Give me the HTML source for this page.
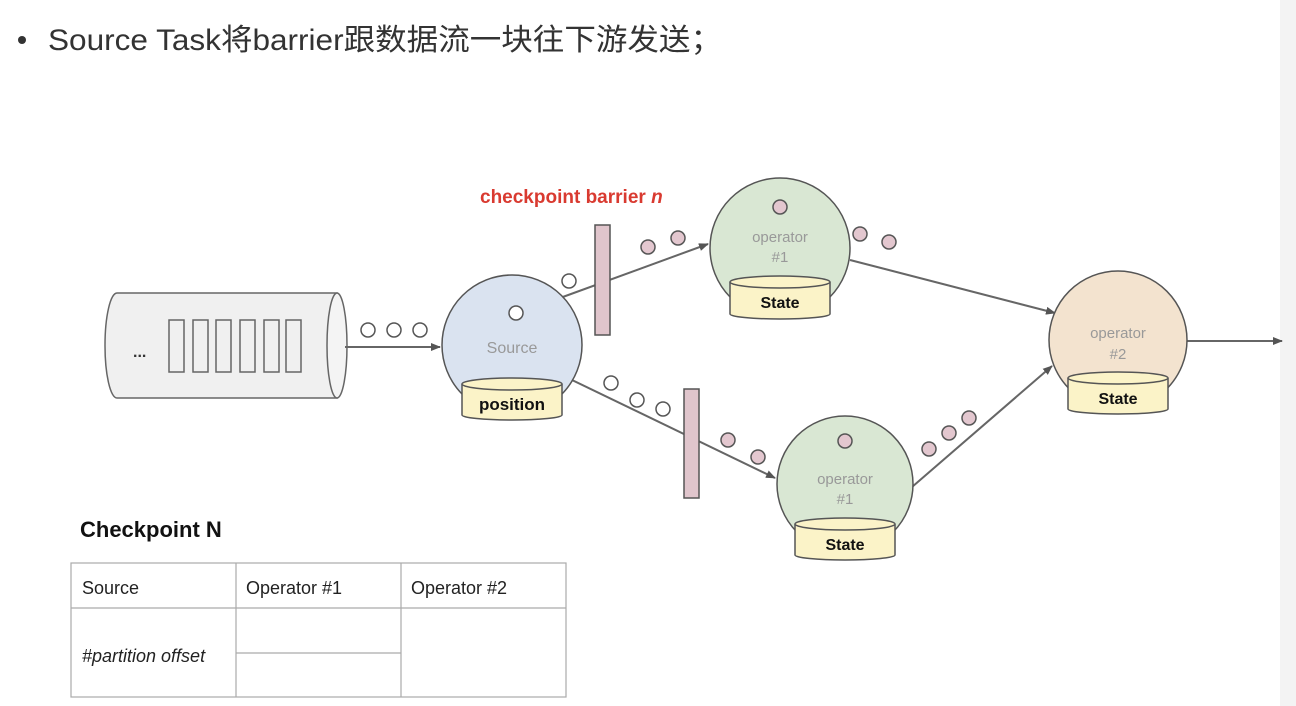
<!DOCTYPE html>
<html><head><meta charset="utf-8"><style>
html,body{margin:0;padding:0;background:#fff;width:1296px;height:706px;overflow:hidden}
svg{display:block}
text{font-family:"Liberation Sans","Noto Sans CJK SC",sans-serif}
</style></head><body>
<svg width="1296" height="706" viewBox="0 0 1296 706">
<defs><marker id="a" markerWidth="10" markerHeight="8" refX="9" refY="4" orient="auto" markerUnits="userSpaceOnUse"><path d="M0,0 L10,4 L0,8 Z" fill="#555"/></marker></defs>
<rect x="1280" y="0" width="16" height="706" fill="#f3f3f3"/>
<circle cx="22" cy="40" r="4" fill="#333"/>
<text x="48" y="50" font-size="30" fill="#333" textLength="674" lengthAdjust="spacingAndGlyphs">Source Task将barrier跟数据流一块往下游发送；</text>

<g stroke="#666" stroke-width="1.5" fill="#f0f0f0">
<path d="M117,293 L337,293 L337,398 L117,398 A12,52.5 0 0 1 117,293 Z"/>
<ellipse cx="337" cy="345.5" rx="10" ry="52.5" fill="#f4f4f4"/>
</g>
<g stroke="#666" stroke-width="1.5" fill="none">
<rect x="169" y="320" width="15" height="52"/><rect x="193" y="320" width="15" height="52"/><rect x="216" y="320" width="15" height="52"/><rect x="240" y="320" width="15" height="52"/><rect x="264" y="320" width="15" height="52"/><rect x="286" y="320" width="15" height="52"/>
</g>
<text x="133" y="357" font-size="16" font-weight="bold" fill="#333">...</text>
<g stroke="#555" stroke-width="1.5" fill="#fff">
<circle cx="368" cy="330" r="7"/><circle cx="394" cy="330" r="7"/><circle cx="420" cy="330" r="7"/>
</g>
<g stroke="#666" stroke-width="2" fill="none" marker-end="url(#a)">
<line x1="345" y1="347" x2="440" y2="347"/>
<line x1="560" y1="298" x2="708" y2="244"/>
<line x1="572" y1="380" x2="775" y2="478"/>
<line x1="850" y1="260" x2="1055" y2="313"/>
<line x1="912" y1="487" x2="1052" y2="366"/>
<line x1="1187" y1="341" x2="1282" y2="341"/>
</g>

<circle cx="512" cy="345" r="70" fill="#dae3f0" stroke="#555" stroke-width="1.5"/>
<circle cx="516" cy="313" r="7" fill="#fff" stroke="#555" stroke-width="1.5"/>
<text x="512" y="353" font-size="16" fill="#999" text-anchor="middle">Source</text>
<g stroke="#555" stroke-width="1.5" fill="#fbf3c8">
<path d="M462,384 L462,415 A50,5 0 0 0 562,415 L562,384"/>
<ellipse cx="512" cy="384" rx="50" ry="6"/>
</g>
<text x="512" y="410" font-size="17" font-weight="bold" text-anchor="middle" fill="#111">position</text>

<rect x="595" y="225" width="15" height="110" fill="#e0c5cc" stroke="#555" stroke-width="1.5"/>
<rect x="684" y="389" width="15" height="109" fill="#e0c5cc" stroke="#555" stroke-width="1.5"/>
<text x="480" y="203" font-size="19" font-weight="bold" fill="#d93a30">checkpoint barrier <tspan font-style="italic">n</tspan></text>

<g stroke="#555" stroke-width="1.5" fill="#fff">
<circle cx="569" cy="281" r="7"/><circle cx="611" cy="383" r="7"/><circle cx="637" cy="400" r="7"/><circle cx="663" cy="409" r="7"/>
</g>
<g stroke="#555" stroke-width="1.5" fill="#e3c7cf">
<circle cx="648" cy="247" r="7"/><circle cx="678" cy="238" r="7"/>
<circle cx="728" cy="440" r="7"/><circle cx="758" cy="457" r="7"/>
<circle cx="860" cy="234" r="7"/><circle cx="889" cy="242" r="7"/>
<circle cx="929" cy="449" r="7"/><circle cx="949" cy="433" r="7"/><circle cx="969" cy="418" r="7"/>
</g>

<circle cx="780" cy="248" r="70" fill="#d9e7d3" stroke="#555" stroke-width="1.5"/>
<circle cx="780" cy="207" r="7" fill="#e3c7cf" stroke="#555" stroke-width="1.5"/>
<text x="780" y="242" font-size="15" fill="#999" text-anchor="middle">operator</text>
<text x="780" y="262" font-size="15" fill="#999" text-anchor="middle">#1</text>
<g stroke="#555" stroke-width="1.5" fill="#fbf3c8">
<path d="M730,282 L730,314 A50,5 0 0 0 830,314 L830,282"/>
<ellipse cx="780" cy="282" rx="50" ry="6"/>
</g>
<text x="780" y="308" font-size="16" font-weight="bold" text-anchor="middle" fill="#111">State</text>

<circle cx="845" cy="484" r="68" fill="#d9e7d3" stroke="#555" stroke-width="1.5"/>
<circle cx="845" cy="441" r="7" fill="#e3c7cf" stroke="#555" stroke-width="1.5"/>
<text x="845" y="484" font-size="15" fill="#999" text-anchor="middle">operator</text>
<text x="845" y="504" font-size="15" fill="#999" text-anchor="middle">#1</text>
<g stroke="#555" stroke-width="1.5" fill="#fbf3c8">
<path d="M795,524 L795,555 A50,5 0 0 0 895,555 L895,524"/>
<ellipse cx="845" cy="524" rx="50" ry="6"/>
</g>
<text x="845" y="550" font-size="16" font-weight="bold" text-anchor="middle" fill="#111">State</text>

<circle cx="1118" cy="340" r="69" fill="#f3e3cf" stroke="#555" stroke-width="1.5"/>
<text x="1118" y="338" font-size="15" fill="#999" text-anchor="middle">operator</text>
<text x="1118" y="359" font-size="15" fill="#999" text-anchor="middle">#2</text>
<g stroke="#555" stroke-width="1.5" fill="#fbf3c8">
<path d="M1068,378 L1068,409 A50,5 0 0 0 1168,409 L1168,378"/>
<ellipse cx="1118" cy="378" rx="50" ry="6"/>
</g>
<text x="1118" y="404" font-size="16" font-weight="bold" text-anchor="middle" fill="#111">State</text>

<text x="80" y="537" font-size="22" font-weight="bold" fill="#111">Checkpoint N</text>
<g stroke="#aaa" stroke-width="1.2" fill="none">
<rect x="71" y="563" width="495" height="134"/>
<line x1="236" y1="563" x2="236" y2="697"/>
<line x1="401" y1="563" x2="401" y2="697"/>
<line x1="71" y1="608" x2="566" y2="608"/>
<line x1="236" y1="653" x2="401" y2="653"/>
</g>
<text x="82" y="594" font-size="18" fill="#222">Source</text>
<text x="246" y="594" font-size="18" fill="#222">Operator #1</text>
<text x="411" y="594" font-size="18" fill="#222">Operator #2</text>
<text x="82" y="662" font-size="18" font-style="italic" fill="#222">#partition offset</text>
</svg>
</body></html>
